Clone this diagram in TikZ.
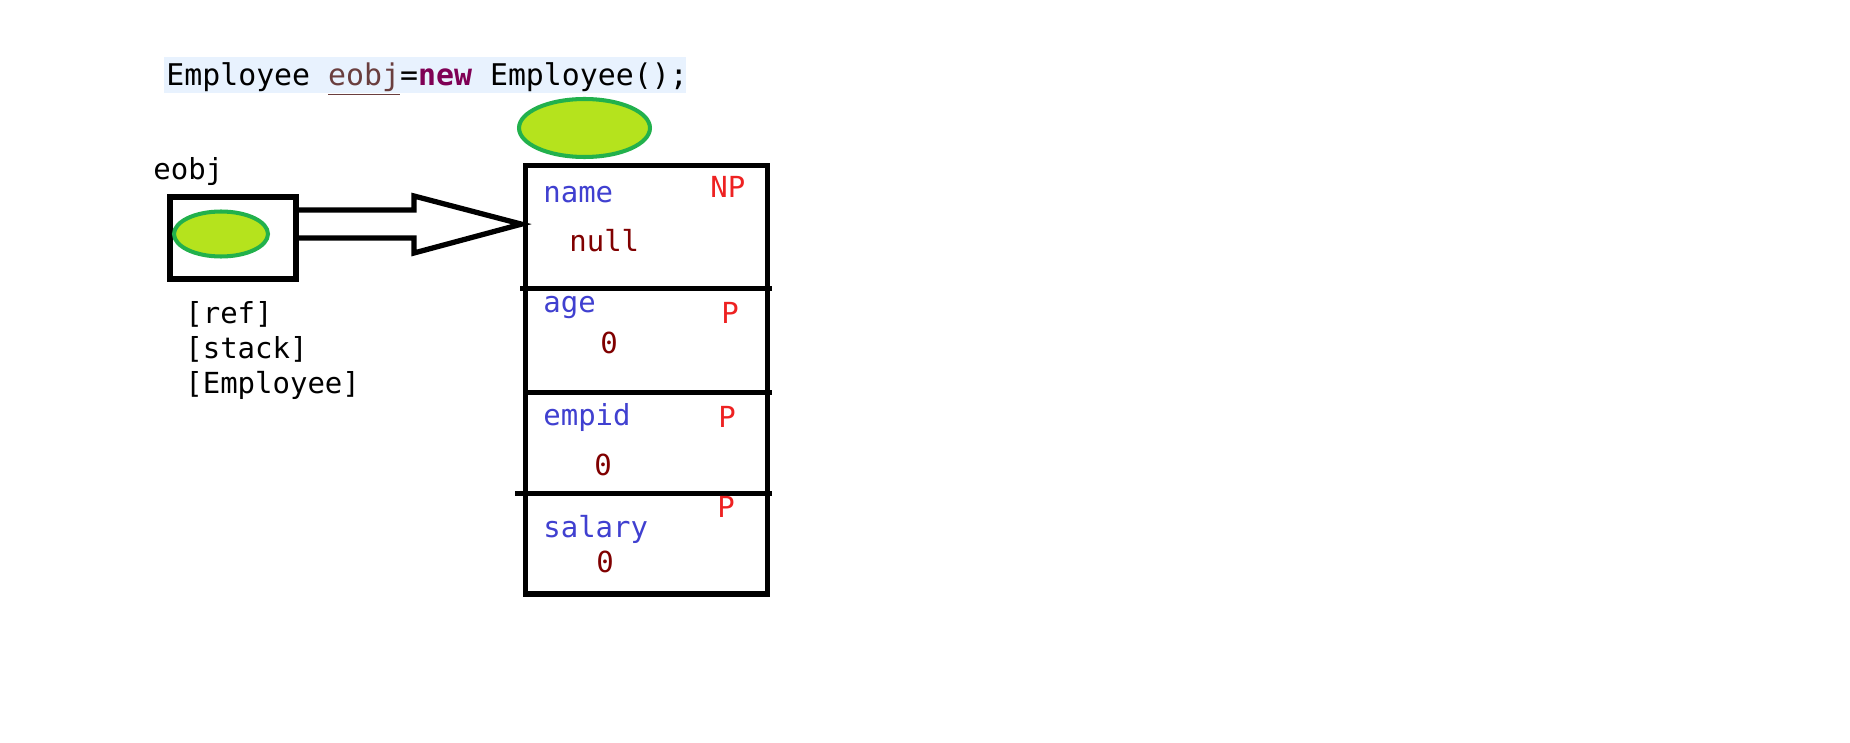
\documentclass[tikz,border=0pt]{standalone}
\usepackage{fontspec}
\newfontfamily\codefont{DejaVu Sans Mono}
\usetikzlibrary{shapes.geometric,positioning,calc}
\definecolor{codebg}{RGB}{232,242,254}
\definecolor{varbrown}{RGB}{106,62,62}
\definecolor{kwpurple}{RGB}{127,0,85}
\definecolor{fieldblue}{RGB}{64,64,208}
\definecolor{valred}{RGB}{128,0,0}
\definecolor{tagred}{RGB}{238,34,34}
\definecolor{ovalfill}{RGB}{181,227,29}
\definecolor{ovalline}{RGB}{34,177,76}

\begin{document}
\begin{tikzpicture}[x=0.02cm, y=-0.02cm,
    txt/.style={anchor=base west, inner sep=0pt, font=\codefont\fontsize{16.5}{20}\selectfont},
    field/.style={txt, text=fieldblue},
    val/.style={txt, text=valred},
    tag/.style={txt, text=tagred},
    box/.style={draw, line width=3pt, outer sep=0pt},
    oval/.style={ellipse, draw=ovalline, fill=ovalfill, line width=2.3pt},
    wall/.style={line width=3pt},
    blockarr/.style={line width=3pt, line join=miter}
]
\fill[white] (0,0) rectangle (1850,743);
\useasboundingbox (0,0) rectangle (1850,743);

\fill[codebg] (164,57) rectangle (686,93);
\node[txt, font=\codefont\fontsize{17}{20}\selectfont] (code) at (166,86) {Employee \textcolor{varbrown}{\underline{eobj}}=\textcolor{kwpurple}{\textbf{new}} Employee();};

\node[oval, minimum width=2.62cm, minimum height=1.16cm] (heapid) at (584.5,128) {};

\node[txt] (eobj) at (153,180) {eobj};
\node[box, minimum width=2.52cm, minimum height=1.64cm] (refbox) at (233,238) {};
\node[oval, minimum width=1.88cm, minimum height=0.9cm] (refid) at (221,234) {};
\node[txt] (reflbl) at (185,323) {[ref]};
\node[txt] (stacklbl) at (185,358) {[stack]};
\node[txt] (typelbl) at (185,394) {[Employee]};

\node[box, minimum width=4.84cm, minimum height=8.58cm] (obj) at (646.4,379.6) {};
\foreach \dy/\dl in {123/5, 227/2, 328/10}
    \draw[wall] ($(obj.north west)+(-\dl,\dy)$) -- ++(247+\dl,0);

\coordinate (tip) at ($(obj.north west)+(-4,59)$);
\draw[blockarr] ($(refbox.east)+(0,-28)$) -- ++(118,0) -- ++(0,-14) -- (tip)
    -- ($(refbox.east)+(118,15)$) -- ++(0,-15) -- (refbox.east);

\node[field] (fname) at (543,203) {name};
\node[tag] (tname) at (710,198) {NP};
\node[val] (vname) at (569,252) {null};

\node[field] (fage) at (543,313) {age};
\node[tag] (tage) at (721,323) {P};
\node[val] (vage) at (600,354) {0};

\node[field] (fempid) at (543,425) {empid};
\node[tag] (tempid) at (718,427) {P};
\node[val] (vempid) at (594,475) {0};

\node[field] (fsalary) at (543,537) {salary};
\node[tag] (tsalary) at (717,517) {P};
\node[val] (vsalary) at (596,572) {0};
\end{tikzpicture}
\end{document}
